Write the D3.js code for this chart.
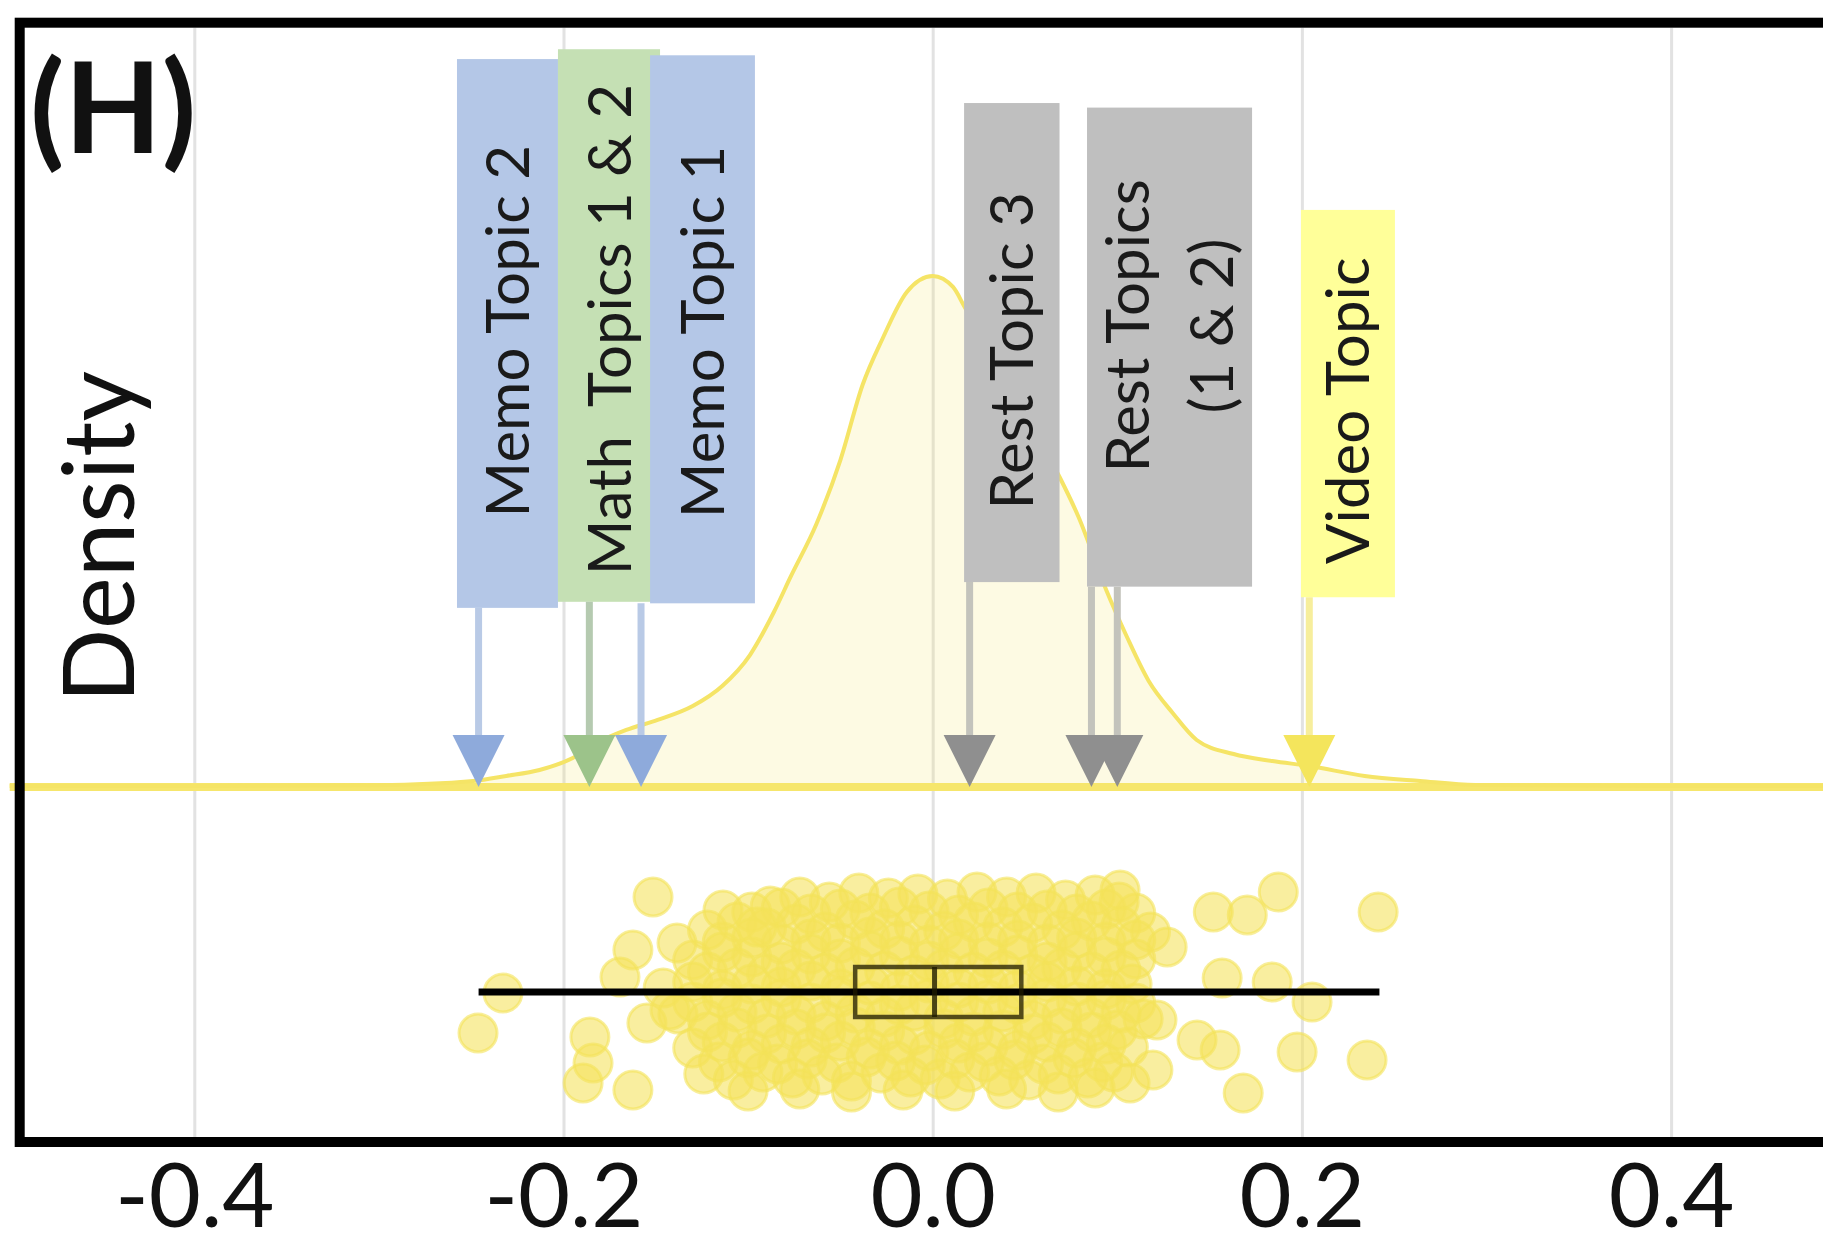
<!DOCTYPE html>
<html><head><meta charset="utf-8">
<script src="https://cdn.jsdelivr.net/npm/d3@7"></script>
<style>
html,body{margin:0;padding:0;background:#fff;}
svg{display:block;}
text{font-family:Lato,"Open Sans",sans-serif;}
</style></head><body>
<svg id="chart" width="1823" height="1247"></svg>
<script>
// ---------------- data ----------------
const xTicks = [-0.4, -0.2, 0.0, 0.2, 0.4];
const xTickLabels = ["-0.4", "-0.2", "0.0", "0.2", "0.4"];

const topicNames = ["Memo Topic 2", "Math  Topics 1 & 2", "Memo Topic 1", "Rest Topic 3", "Rest Topics\n(1 & 2)", "Video Topic"];
const topicGroups = ["memo", "math", "memo", "rest", "rest", "video"];
const topicValues = [[-0.246], [-0.186], [-0.158], [0.020], [0.086, 0.100], [0.204]];

// kernel density
const densityX = [-0.50, -0.40, -0.300, -0.249, -0.231, -0.213, -0.195, -0.182, -0.166, -0.149, -0.130, -0.114, -0.099, -0.086, -0.077, -0.063, -0.050, -0.038, -0.027, -0.014, 0.000, 0.011, 0.017, 0.037, 0.053, 0.069, 0.079, 0.094, 0.105, 0.117, 0.130, 0.143, 0.163, 0.184, 0.204, 0.234, 0.264, 0.294, 0.40, 0.50];
const densityY = [0, 0, 0.010, 0.058, 0.116, 0.185, 0.324, 0.497, 0.648, 0.764, 0.925, 1.157, 1.515, 2.013, 2.418, 3.031, 3.771, 4.639, 5.183, 5.715, 5.900, 5.773, 5.553, 4.789, 4.176, 3.563, 3.112, 2.267, 1.735, 1.215, 0.845, 0.532, 0.370, 0.289, 0.231, 0.116, 0.058, 0.012, 0, 0];

// box plot: whisker low, Q1, median, Q3, whisker high
const boxStats = [-0.246, -0.042, 0.001, 0.048, 0.242];

// individual observations (value, vertical jitter in [-1, 1])
const pointX = [
  -0.088,-0.072,-0.056,-0.040,-0.024,-0.008,0.008,0.024,0.040,0.056,0.072,0.088,0.101,
  -0.098,-0.082,-0.066,-0.050,-0.034,-0.018,-0.002,0.014,0.030,0.046,0.062,0.078,0.094,0.110,
  -0.122,-0.106,-0.090,-0.074,-0.058,-0.042,-0.026,-0.010,0.006,0.022,0.038,0.054,0.070,0.086,0.102,0.118,
  -0.114,-0.098,-0.082,-0.066,-0.050,-0.034,-0.018,-0.002,0.014,0.030,0.046,0.062,0.078,0.094,0.110,
  -0.130,-0.114,-0.098,-0.082,-0.066,-0.050,-0.034,-0.018,-0.002,0.014,0.030,0.046,0.062,0.078,0.094,0.110,
  -0.122,-0.106,-0.090,-0.074,-0.058,-0.042,-0.026,-0.010,0.006,0.022,0.038,0.054,0.070,0.086,0.102,
  -0.146,-0.130,-0.114,-0.098,-0.082,-0.066,-0.050,-0.034,-0.018,-0.002,0.014,0.030,0.046,0.062,0.078,0.094,0.108,
  -0.130,-0.114,-0.098,-0.082,-0.066,-0.050,-0.034,-0.018,-0.002,0.014,0.030,0.046,0.062,0.078,0.094,0.110,
  -0.138,-0.122,-0.106,-0.090,-0.074,-0.058,-0.042,-0.026,-0.010,0.006,0.022,0.038,0.054,0.070,0.086,0.102,0.114,
  -0.122,-0.106,-0.090,-0.074,-0.058,-0.042,-0.026,-0.010,0.006,0.022,0.038,0.054,0.070,0.086,0.100,
  -0.130,-0.114,-0.098,-0.082,-0.066,-0.050,-0.034,-0.018,-0.002,0.014,0.030,0.046,0.062,0.078,0.094,0.106,
  -0.116,-0.100,-0.084,-0.068,-0.052,-0.036,-0.020,-0.004,0.012,0.028,0.044,0.060,0.076,0.092,
  -0.124,-0.108,-0.092,-0.076,-0.060,-0.044,-0.028,-0.012,0.004,0.020,0.036,0.052,0.068,0.084,0.098,
  -0.100,-0.072,-0.044,-0.016,0.012,0.040,0.068,0.088,
  -0.2328,-0.2463,-0.1515,-0.1857,-0.1840,-0.1894,-0.1624,-0.1385,-0.1624,-0.1694,-0.1548,-0.1423,-0.1136,-0.0952,
  0.1872,0.1704,0.1520,0.2413,0.1568,0.1839,0.2055,0.1974,0.2353,0.1432,0.1557,0.1682,0.1270,0.1215,0.1193,0.1069,0.1015
];
const pointJitter = [
  -0.86,-0.95,-0.90,-0.99,-0.94,-0.98,-0.93,-1.00,-0.95,-0.99,-0.92,-0.97,-0.90,
  -0.80,-0.84,-0.78,-0.83,-0.79,-0.85,-0.81,-0.77,-0.84,-0.80,-0.82,-0.78,-0.83,-0.79,
  -0.62,-0.70,-0.64,-0.68,-0.60,-0.72,-0.63,-0.67,-0.61,-0.70,-0.65,-0.69,-0.62,-0.71,-0.66,-0.60,
  -0.50,-0.54,-0.48,-0.53,-0.49,-0.55,-0.51,-0.47,-0.53,-0.50,-0.52,-0.48,-0.54,-0.50,-0.52,
  -0.32,-0.40,-0.35,-0.30,-0.38,-0.33,-0.41,-0.36,-0.31,-0.39,-0.34,-0.37,-0.30,-0.40,-0.35,-0.33,
  -0.20,-0.24,-0.18,-0.23,-0.19,-0.25,-0.21,-0.17,-0.23,-0.20,-0.22,-0.18,-0.24,-0.20,-0.22,
  -0.04,-0.10,-0.02,-0.08,-0.05,-0.11,-0.03,-0.07,-0.01,-0.09,-0.04,-0.08,-0.02,-0.10,-0.06,-0.03,-0.08,
  0.10,0.06,0.12,0.07,0.11,0.05,0.09,0.13,0.07,0.10,0.08,0.12,0.06,0.10,0.08,0.11,
  0.22,0.28,0.20,0.26,0.23,0.29,0.21,0.25,0.19,0.27,0.24,0.20,0.28,0.22,0.26,0.21,0.27,
  0.40,0.36,0.42,0.37,0.41,0.35,0.39,0.43,0.37,0.40,0.38,0.42,0.36,0.40,0.38,
  0.56,0.50,0.58,0.52,0.55,0.49,0.57,0.53,0.59,0.51,0.54,0.58,0.50,0.56,0.52,0.55,
  0.70,0.66,0.72,0.67,0.71,0.65,0.69,0.73,0.67,0.70,0.68,0.72,0.66,0.70,
  0.82,0.88,0.80,0.86,0.83,0.89,0.81,0.85,0.87,0.80,0.84,0.88,0.82,0.86,0.80,
  0.99,0.97,1.00,0.98,0.99,0.97,1.00,0.96,
  0.01,0.41,-0.95,0.45,0.71,0.91,0.98,-0.49,-0.42,-0.15,0.31,0.18,-0.82,-0.65,
  -1.00,-0.77,-0.80,-0.80,-0.14,-0.10,0.10,0.60,0.68,0.48,0.58,1.01,-0.45,0.28,0.78,0.91,-1.02
];

// ---------------- layout / style ----------------
// label boxes: x extents in data units, y extents as fraction of the upper panel height
const labelLayout = [
  {x0: -0.2577, x1: -0.2030, top: 0.959, bottom: 0.235, mid: 0.600},
  {x0: -0.2030, x1: -0.1477, top: 0.972, bottom: 0.243, mid: 0.602},
  {x0: -0.1531, x1: -0.0963, top: 0.964, bottom: 0.241, mid: 0.599},
  {x0:  0.0170, x1:  0.0687, top: 0.901, bottom: 0.269, mid: 0.574},
  {x0:  0.0836, x1:  0.1730, top: 0.895, bottom: 0.263, mid: 0.607},
  {x0:  0.1995, x1:  0.2504, top: 0.760, bottom: 0.249, mid: 0.495}
];
const groupColors = {
  memo:  {box: "#b4c7e7", line: "#b9cae6", head: "#8eaadb"},
  math:  {box: "#c5e0b4", line: "#b5cab0", head: "#9cc38a"},
  rest:  {box: "#bfbfbf", line: "#c3c3bc", head: "#8f8f8f"},
  video: {box: "#ffff99", line: "#f7ee9c", head: "#f4e55c"}
};
const YELLOW = "#f4e259";

const svg = d3.select("#chart");
const x = d3.scaleLinear().domain([-0.4, 0.4]).range([194.3, 1671.1]);
const yDen = d3.scaleLinear().domain([0, 5.9]).range([786, 276]);
const yAnno = d3.scaleLinear().domain([0, 1]).range([786, 28]);
const yJit = d3.scaleLinear().domain([-1, 1]).range([892, 1092]);

const frameTop = 22.7, frameBottom = 1142, frameLeft = 19.7;

svg.append("rect").attr("width", 1823).attr("height", 1247).attr("fill", "#fff");

// grid lines
const grid = svg.append("g").attr("transform", `translate(0,${frameBottom - 5})`)
  .call(d3.axisBottom(x).tickValues(xTicks).tickSize(-(frameBottom - 5 - (frameTop + 5))).tickFormat(""));
grid.select(".domain").remove();
grid.selectAll(".tick line").attr("stroke", "#e2e2e2").attr("stroke-width", 3);

// density
const dens = densityX.map((v, i) => [v, densityY[i]]);
svg.append("path").datum(dens)
  .attr("d", d3.area().x(d => x(d[0])).y0(yDen(0)).y1(d => yDen(d[1])).curve(d3.curveMonotoneX))
  .attr("fill", YELLOW).attr("fill-opacity", 0.17);
svg.append("line").attr("x1", x(-0.5)).attr("x2", x(0.5)).attr("y1", yDen(0) + 1).attr("y2", yDen(0) + 1)
  .attr("stroke", "#f6e66c").attr("stroke-width", 8);
svg.append("path").datum(dens)
  .attr("d", d3.line().x(d => x(d[0])).y(d => yDen(d[1])).curve(d3.curveMonotoneX))
  .attr("fill", "none").attr("stroke", "#f5e466").attr("stroke-width", 4);

// label boxes
const labelFont = 60, capH = 43, lineGap = 84;
topicNames.forEach((name, i) => {
  const L = labelLayout[i], c = groupColors[topicGroups[i]];
  const bx0 = x(L.x0), bx1 = x(L.x1);
  svg.append("rect").attr("x", bx0).attr("y", yAnno(L.top))
    .attr("width", bx1 - bx0).attr("height", yAnno(L.bottom) - yAnno(L.top))
    .attr("fill", c.box);
  const lines = name.split("\n");
  const cx = (bx0 + bx1) / 2;
  lines.forEach((ln, k) => {
    const bl = cx + capH / 2 + (k - (lines.length - 1) / 2) * lineGap;
    svg.append("text")
      .attr("transform", `translate(${bl},${yAnno(L.mid)}) rotate(-90)`)
      .attr("text-anchor", "middle").attr("font-size", labelFont)
      .attr("fill", "#1a1a1a").style("white-space", "pre").text(ln);
  });
});

// arrows
const headW = 52, headH = 52;
topicNames.forEach((name, i) => {
  const L = labelLayout[i], c = groupColors[topicGroups[i]];
  topicValues[i].forEach(v => {
    svg.append("line").attr("x1", x(v)).attr("x2", x(v))
      .attr("y1", yAnno(L.bottom)).attr("y2", yDen(0) - headH + 2)
      .attr("stroke", c.line).attr("stroke-width", 7);
  });
});
topicNames.forEach((name, i) => {
  const c = groupColors[topicGroups[i]];
  topicValues[i].forEach(v => {
    const cx = x(v), tip = yDen(0) + 1;
    svg.append("path")
      .attr("d", `M${cx - headW / 2},${tip - headH}L${cx + headW / 2},${tip - headH}L${cx},${tip}Z`)
      .attr("fill", c.head);
  });
});

// points
svg.append("g").selectAll("circle").data(pointX.map((v, i) => [v, pointJitter[i]])).join("circle")
  .attr("cx", d => x(d[0])).attr("cy", d => yJit(d[1])).attr("r", 19)
  .attr("fill", YELLOW).attr("fill-opacity", 0.58)
  .attr("stroke", YELLOW).attr("stroke-opacity", 0.6).attr("stroke-width", 3);

// box plot
const bp = svg.append("g");
const yMid = yJit(0), boxH = 50;
bp.append("line").attr("x1", x(boxStats[0])).attr("x2", x(boxStats[4]))
  .attr("y1", yMid).attr("y2", yMid).attr("stroke", "#000").attr("stroke-width", 7);
bp.append("rect").attr("x", x(boxStats[1])).attr("y", yMid - boxH / 2)
  .attr("width", x(boxStats[3]) - x(boxStats[1])).attr("height", boxH)
  .attr("fill", "none").attr("stroke", "#1e1a00").attr("stroke-opacity", 0.75).attr("stroke-width", 4.5);
bp.append("line").attr("x1", x(boxStats[2])).attr("x2", x(boxStats[2]))
  .attr("y1", yMid - boxH / 2).attr("y2", yMid + boxH / 2)
  .attr("stroke", "#1e1a00").attr("stroke-opacity", 0.8).attr("stroke-width", 5);

// frame
svg.append("rect").attr("x", frameLeft).attr("y", frameTop)
  .attr("width", 2200).attr("height", frameBottom - frameTop)
  .attr("fill", "none").attr("stroke", "#000").attr("stroke-width", 10);

// tick labels
const ax = svg.append("g").attr("transform", "translate(0,1227)")
  .call(d3.axisBottom(x).tickValues(xTicks).tickSize(0).tickPadding(0).tickFormat((d, i) => xTickLabels[i]));
ax.select(".domain").remove();
ax.selectAll("text").attr("dy", null).attr("y", 0)
  .attr("font-size", 90).attr("font-family", "Lato, 'Open Sans', sans-serif").attr("fill", "#111");

// panel tag and axis title
svg.append("text").attr("x", 30).attr("y", 153).attr("font-size", 126).attr("font-weight", 700)
  .attr("fill", "#111").text("(H)");
svg.append("text").attr("transform", "translate(134,537) rotate(-90)")
  .attr("text-anchor", "middle").attr("font-size", 98).attr("fill", "#111").text("Density");
</script>
</body></html>
